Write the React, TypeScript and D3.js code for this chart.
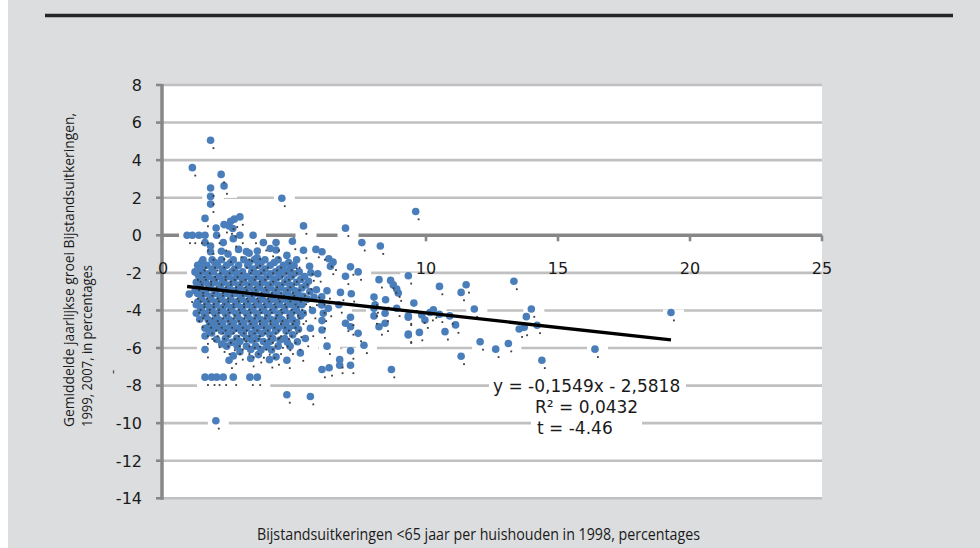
import React from 'react';
import * as d3 from 'd3';

const W = 980;
const H = 548;

const yTicks = [8, 6, 4, 2, 0, -2, -4, -6, -8, -10, -12, -14];
const xTicks = [0, 5, 10, 15, 20, 25];

const slope = -0.1549;
const intercept = -2.5818;
const eqLines = ['y = -0,1549x - 2,5818', 'R² = 0,0432', 't = -4.46'];

const xTitle = 'Bijstandsuitkeringen <65 jaar per huishouden in 1998, percentages';
const yTitle1 = 'Gemiddelde jaarlijkse groei Bijstandsuitkeringen,';
const yTitle2 = '1999, 2007, in percentages';

// points above zero
const pointsUpper: [number, number][] = [
  [1.84, 5.06], [1.15, 3.6], [2.24, 3.24], [2.35, 2.63], [1.84, 2.52], [1.84, 2.07], [1.84, 1.66],
  [4.54, 1.97], [9.61, 1.27], [1.63, 0.9], [2.95, 0.98], [2.74, 0.86], [2.54, 0.5], [2.35, 0.57],
  [2.68, 0.36], [2.05, 0.39], [2.6, 0.75], [5.36, 0.5], [6.95, 0.38],
  [0.95, 0], [1.15, 0], [1.4, 0], [1.63, 0], [2.07, 0], [2.95, 0], [3.45, 0],
];

// near zero, slightly negative
const pointsNearZero: [number, number][] = [
  [1.63, -0.39], [2.32, -0.39], [2.7, -0.18], [3.84, -0.39], [4.32, -0.39], [4.94, -0.32], [7.57, -0.39],
  [8.27, -0.57], [1.84, -0.57], [1.84, -0.88], [5.36, -0.8], [5.83, -0.75], [6.06, -0.88], [4.73, -1.07],
  [6.32, -1.25], [6.48, -1.43], [2.25, -0.85], [2.5, -1.0], [2.9, -0.75], [3.3, -0.95], [3.61, -0.84],
  [4.1, -0.7], [3.6, -1.2], [3.2, -0.87], [4.32, -0.78],
];

// dense cluster, upper half
const pointsClusterA: [number, number][] = [
  [1.55, -1.3], [1.9, -1.3], [2.25, -1.3], [2.7, -1.3], [3.1, -1.3], [3.5, -1.3], [3.9, -1.3], [4.4, -1.3], [5.1, -1.3],
  [1.35, -1.6], [1.7, -1.6], [2.1, -1.6], [2.45, -1.6], [2.9, -1.6], [3.25, -1.6], [3.65, -1.6], [4.1, -1.6],
  [4.6, -1.6], [5.0, -1.6], [5.59, -1.65], [6.38, -1.65], [7.14, -1.68],
  [1.25, -1.95], [1.55, -1.95], [1.95, -1.95], [2.3, -1.95], [2.65, -1.95], [3.05, -1.95], [3.4, -1.95],
  [3.8, -1.95], [4.3, -1.95], [4.7, -1.95], [5.2, -1.95], [5.64, -2.0], [7.43, -1.95],
  [1.4, -2.2], [1.75, -2.2], [2.15, -2.2], [2.5, -2.2], [2.85, -2.2], [3.2, -2.2], [3.6, -2.2], [4.0, -2.2],
  [4.45, -2.2], [4.9, -2.2], [5.4, -2.2], [6.95, -2.18], [8.22, -2.36], [8.66, -2.4], [9.33, -2.15],
  [1.3, -2.5], [1.65, -2.5], [2.0, -2.5], [2.35, -2.5], [2.7, -2.5], [3.1, -2.5], [3.45, -2.5], [3.85, -2.5],
  [4.2, -2.5], [4.65, -2.5], [5.1, -2.5], [5.55, -2.45], [8.76, -2.64],
  [1.45, -2.8], [1.8, -2.8], [2.2, -2.8], [2.55, -2.8], [2.95, -2.8], [3.3, -2.8], [3.7, -2.8], [4.1, -2.8],
  [4.5, -2.8], [4.9, -2.8], [5.3, -2.8], [5.85, -2.9], [8.89, -2.86], [10.51, -2.72], [11.52, -2.63],
  [1.03, -3.13], [1.35, -3.1], [1.65, -3.1], [2.05, -3.1], [2.4, -3.1], [2.8, -3.1], [3.15, -3.1], [3.55, -3.1],
  [3.95, -3.1], [4.35, -3.1], [4.75, -3.1], [5.15, -3.1], [6.25, -2.95], [6.76, -3.04], [7.17, -3.11],
  [8.95, -3.07], [11.33, -3.04], [5.6, -3.0], [5.76, -3.3], [6.05, -3.27],
];

// dense cluster, lower half
const pointsClusterB: [number, number][] = [
  [1.5, -3.4], [1.85, -3.4], [2.2, -3.4], [2.6, -3.4], [3.0, -3.4], [3.4, -3.4], [3.8, -3.4], [4.2, -3.4],
  [4.6, -3.4], [5.05, -3.4], [5.5, -3.4], [8.03, -3.29], [8.47, -3.43],
  [1.3, -3.7], [1.7, -3.7], [2.05, -3.7], [2.45, -3.7], [2.85, -3.7], [3.25, -3.7], [3.65, -3.7], [4.05, -3.7],
  [4.45, -3.7], [4.9, -3.7], [5.3, -3.7], [6.05, -3.71], [6.7, -3.7], [8.07, -3.7], [8.03, -3.88],
  [9.54, -3.61], [8.89, -3.88], [6.3, -3.89],
  [1.45, -4.0], [1.8, -4.0], [2.2, -4.0], [2.6, -4.0], [3.0, -4.0], [3.4, -4.0], [3.8, -4.0], [4.2, -4.0],
  [4.65, -4.0], [5.1, -4.0], [5.7, -4.0], [6.11, -4.15], [10.28, -3.97], [10.15, -4.11], [11.83, -3.92], [13.99, -3.92],
  [1.43, -4.47], [1.65, -4.3], [2.05, -4.3], [2.45, -4.3], [2.85, -4.3], [3.25, -4.3], [3.6, -4.3], [4.0, -4.3],
  [4.4, -4.3], [4.85, -4.3], [5.25, -4.3], [7.14, -4.36], [8.03, -4.29], [8.45, -4.15], [9.33, -4.29],
  [9.33, -4.36], [9.84, -4.24], [10.9, -4.29], [10.51, -4.2], [13.8, -4.33],
  [1.95, -4.65], [2.3, -4.65], [2.7, -4.65], [3.1, -4.65], [3.5, -4.65], [3.9, -4.65], [4.3, -4.65], [4.7, -4.65],
  [5.1, -4.65], [6.06, -4.54], [6.95, -4.68], [8.45, -4.68], [9.96, -4.51], [11.12, -4.77], [7.14, -4.87], [8.22, -4.87],
  [1.63, -4.95], [2.0, -4.95], [2.4, -4.95], [2.8, -4.95], [3.2, -4.95], [3.6, -4.95], [4.0, -4.95], [4.4, -4.95],
  [4.8, -4.95], [5.17, -5.0], [5.62, -4.95], [6.06, -5.04], [10.72, -5.13], [13.53, -4.99], [13.72, -4.9],
  [14.21, -4.79], [9.75, -5.17],
  [1.63, -5.36], [1.88, -5.2], [2.07, -5.54], [2.5, -5.3], [2.83, -5.48], [3.08, -5.22], [3.4, -5.22], [3.78, -5.22],
  [4.09, -5.3], [4.47, -5.57], [4.95, -5.3], [5.43, -5.49], [7.43, -5.22], [9.33, -5.26], [9.33, -5.31],
  [2.26, -5.79], [2.65, -5.7], [2.95, -5.66], [3.4, -5.57], [3.84, -5.66], [4.09, -5.66], [3.97, -5.93],
  [4.34, -5.04], [4.75, -5.7], [5.13, -5.67], [6.25, -5.9], [7.65, -5.85], [12.05, -5.67], [13.12, -5.76], [12.64, -6.06],
  [1.63, -6.08], [2.95, -6.2], [3.36, -6.08], [3.75, -6.1], [4.15, -6.1], [5.24, -6.26], [7.14, -6.15],
  [11.33, -6.44], [16.4, -6.06],
  [2.54, -6.65], [2.7, -6.42], [3.36, -6.56], [3.65, -6.35], [4.07, -6.62], [4.32, -6.47], [4.73, -6.65],
  [6.73, -6.62], [6.73, -6.92], [7.14, -6.92], [14.39, -6.65],
];

// dense core, in-between rows
const pointsCore: [number, number][] = [
  [1.5, -1.45], [2.0, -1.45], [2.6, -1.45], [3.3, -1.45], [3.75, -1.45], [4.25, -1.45], [4.8, -1.45],
  [1.5, -1.8], [1.9, -1.8], [2.3, -1.8], [2.75, -1.8], [3.45, -1.8], [3.9, -1.8], [4.45, -1.8], [4.85, -1.8],
  [1.35, -2.05], [1.75, -2.05], [2.5, -2.05], [2.9, -2.05], [3.6, -2.05], [4.1, -2.05], [4.55, -2.05], [5.0, -2.05], [5.9, -2.05],
  [1.55, -2.35], [1.95, -2.35], [2.3, -2.35], [2.7, -2.35], [3.05, -2.35], [3.4, -2.35], [3.8, -2.35], [4.25, -2.35], [4.75, -2.35], [5.25, -2.35],
  [1.45, -2.65], [1.85, -2.65], [2.2, -2.65], [2.55, -2.65], [2.9, -2.65], [3.3, -2.65], [3.65, -2.65], [4.05, -2.65], [4.4, -2.65], [4.85, -2.65], [5.45, -2.65],
  [1.25, -2.95], [1.6, -2.95], [2.0, -2.95], [2.4, -2.95], [2.75, -2.95], [3.1, -2.95], [3.5, -2.95], [3.9, -2.95], [4.3, -2.95], [4.7, -2.95], [5.05, -2.95],
  [1.5, -3.25], [1.85, -3.25], [2.25, -3.25], [2.6, -3.25], [3.0, -3.25], [3.35, -3.25], [3.75, -3.25], [4.15, -3.25], [4.55, -3.25], [4.95, -3.25], [5.35, -3.25],
  [1.35, -3.55], [1.7, -3.55], [2.05, -3.55], [2.4, -3.55], [2.8, -3.55], [3.2, -3.55], [3.6, -3.55], [4.0, -3.55], [4.4, -3.55], [4.8, -3.55], [5.2, -3.55],
  [1.5, -3.85], [1.9, -3.85], [2.3, -3.85], [2.65, -3.85], [3.05, -3.85], [3.45, -3.85], [3.85, -3.85], [4.25, -3.85], [4.65, -3.85], [5.05, -3.85],
  [1.3, -4.15], [1.6, -4.15], [2.0, -4.15], [2.4, -4.15], [2.8, -4.15], [3.2, -4.15], [3.6, -4.15], [4.0, -4.15], [4.45, -4.15], [4.9, -4.15], [5.35, -4.15],
  [1.75, -4.5], [2.15, -4.5], [2.55, -4.5], [2.95, -4.5], [3.35, -4.5], [3.75, -4.5], [4.15, -4.5], [4.55, -4.5], [4.95, -4.5],
  [1.8, -4.8], [2.2, -4.8], [2.6, -4.8], [3.0, -4.8], [3.4, -4.8], [3.8, -4.8], [4.2, -4.8], [4.6, -4.8], [5.0, -4.8],
  [1.8, -5.1], [2.25, -5.1], [2.65, -5.1], [3.0, -5.1], [3.55, -5.1], [3.95, -5.1], [4.3, -5.1], [4.7, -5.1],
  [2.4, -5.5], [3.2, -5.5], [3.6, -5.5], [4.2, -5.5], [4.65, -5.5],
  [2.45, -5.9], [2.85, -5.9], [3.2, -5.9], [3.55, -5.9], [4.4, -5.9], [4.85, -5.9],
];

// low outliers and far right
const pointsLow: [number, number][] = [
  [6.06, -7.14], [6.33, -7.05], [8.69, -7.14],
  [1.63, -7.55], [1.88, -7.55], [2.07, -7.55], [2.32, -7.55], [2.7, -7.55], [3.33, -7.55], [3.61, -7.55],
  [4.73, -8.49], [5.62, -8.58], [2.04, -9.87],
  [13.33, -2.45], [19.28, -4.11],
];

const allPoints = [...pointsUpper, ...pointsNearZero, ...pointsClusterA, ...pointsClusterB, ...pointsCore, ...pointsLow];

export default function App() {
  const x = d3.scaleLinear().domain([0, 25]).range([162, 822]);
  const y = d3.scaleLinear().domain([8, -14]).range([85, 498.3]);
  const [xmin, xmax] = d3.extent(allPoints, (d) => d[0]) as [number, number];
  const trend = d3.line<number>().x((v) => x(v)).y((v) => y(intercept + slope * v));
  const eqX = [493, 535, 537];
  const eqBase = [391.5, 412.5, 434];
  const eqBox = [
    [489, 378, 197, 19],
    [531, 398, 111, 27],
    [533, 418, 84, 20],
  ];
  return (
    <svg width={W} height={H} style={{ position: 'absolute', left: 0, top: 0, display: 'block' }}>
      <rect x={0} y={0} width={W} height={H} fill="#ffffff" />
      <rect x={8} y={0} width={W - 8} height={H} fill="#dcdddf" />
      <line x1={45} x2={953} y1={15.5} y2={15.5} stroke="#262626" strokeWidth={3.5} />
      {/* plot area */}
      <rect x={x(0)} y={y(8)} width={x(25) - x(0)} height={y(-14) - y(8)} fill="#ffffff" />
      {yTicks.filter((t) => t !== 0).map((t) => (
        <line key={'g' + t} x1={x(0)} x2={x(25)} y1={y(t)} y2={y(t)} stroke="#c0c0c0" strokeWidth={2.6} />
      ))}
      <line x1={x(0)} x2={x(25)} y1={y(0)} y2={y(0)} stroke="#878787" strokeWidth={3.4} />
      {xTicks.map((t) => (
        <line key={'xt' + t} x1={x(t)} x2={x(t)} y1={y(0)} y2={y(0) + 6} stroke="#878787" strokeWidth={2.6} />
      ))}
      {/* label backgrounds */}
      {allPoints.map((p, i) => (
        <rect key={'b' + i} x={x(p[0]) - 8} y={y(p[1]) - 3} width={21} height={15} fill="#ffffff" />
      ))}
      {eqBox.map((b, i) => (
        <rect key={'eb' + i} x={b[0]} y={b[1]} width={b[2]} height={b[3]} fill="#ffffff" />
      ))}
      {/* y axis */}
      <line x1={x(0)} x2={x(0)} y1={y(8) - 1} y2={y(-14) + 1.5} stroke="#878787" strokeWidth={3.5} />
      {yTicks.map((t) => (
        <line key={'yt' + t} x1={x(0) - 6} x2={x(0)} y1={y(t)} y2={y(t)} stroke="#878787" strokeWidth={2.6} />
      ))}
      {yTicks.map((t) => (
        <text key={'yl' + t} x={142} y={y(t) + 5.8} textAnchor="end" fontFamily="DejaVu Sans" fontSize={16} fill="#1a1a1a">
          {t}
        </text>
      ))}
      {xTicks.map((t) => (
        <text key={'xl' + t} x={x(t) + (t === 0 ? 1 : 0)} y={273.5} textAnchor="middle" fontFamily="DejaVu Sans" fontSize={16} fill="#1a1a1a">
          {t}
        </text>
      ))}
      {/* points */}
      {allPoints.map((p, i) => (
        <circle key={'p' + i} cx={x(p[0])} cy={y(p[1])} r={3.8} fill="#4a7ebb" />
      ))}
      {allPoints.map((p, i) => (
        <rect key={'l' + i} x={x(p[0]) + 2} y={y(p[1]) + 7} width={1.8} height={1.8} fill="#3a3a3a" />
      ))}
      <path d={trend([xmin, xmax]) || ''} stroke="#000000" strokeWidth={3.4} fill="none" />
      {eqLines.map((s, i) => (
        <text key={'eq' + i} x={eqX[i]} y={eqBase[i]} fontFamily="DejaVu Sans" fontSize={17} fill="#1a1a1a">
          {s}
        </text>
      ))}
      {/* titles */}
      <text
        transform="translate(73.5,427) rotate(-90)"
        fontFamily="Open Sans"
        fontSize={14}
        textLength={314}
        lengthAdjust="spacingAndGlyphs"
        fill="#1a1a1a"
      >
        {yTitle1}
      </text>
      <text
        transform="translate(92,427) rotate(-90)"
        fontFamily="Open Sans"
        fontSize={14}
        textLength={162}
        lengthAdjust="spacingAndGlyphs"
        fill="#1a1a1a"
      >
        {yTitle2}
      </text>
      <text transform="translate(117,374) rotate(-90)" fontFamily="Open Sans" fontSize={13} fill="#1a1a1a">
        -
      </text>
      <text
        x={257}
        y={540}
        fontFamily="Open Sans"
        fontSize={16}
        textLength={443}
        lengthAdjust="spacingAndGlyphs"
        fill="#1a1a1a"
      >
        {xTitle}
      </text>
    </svg>
  );
}
